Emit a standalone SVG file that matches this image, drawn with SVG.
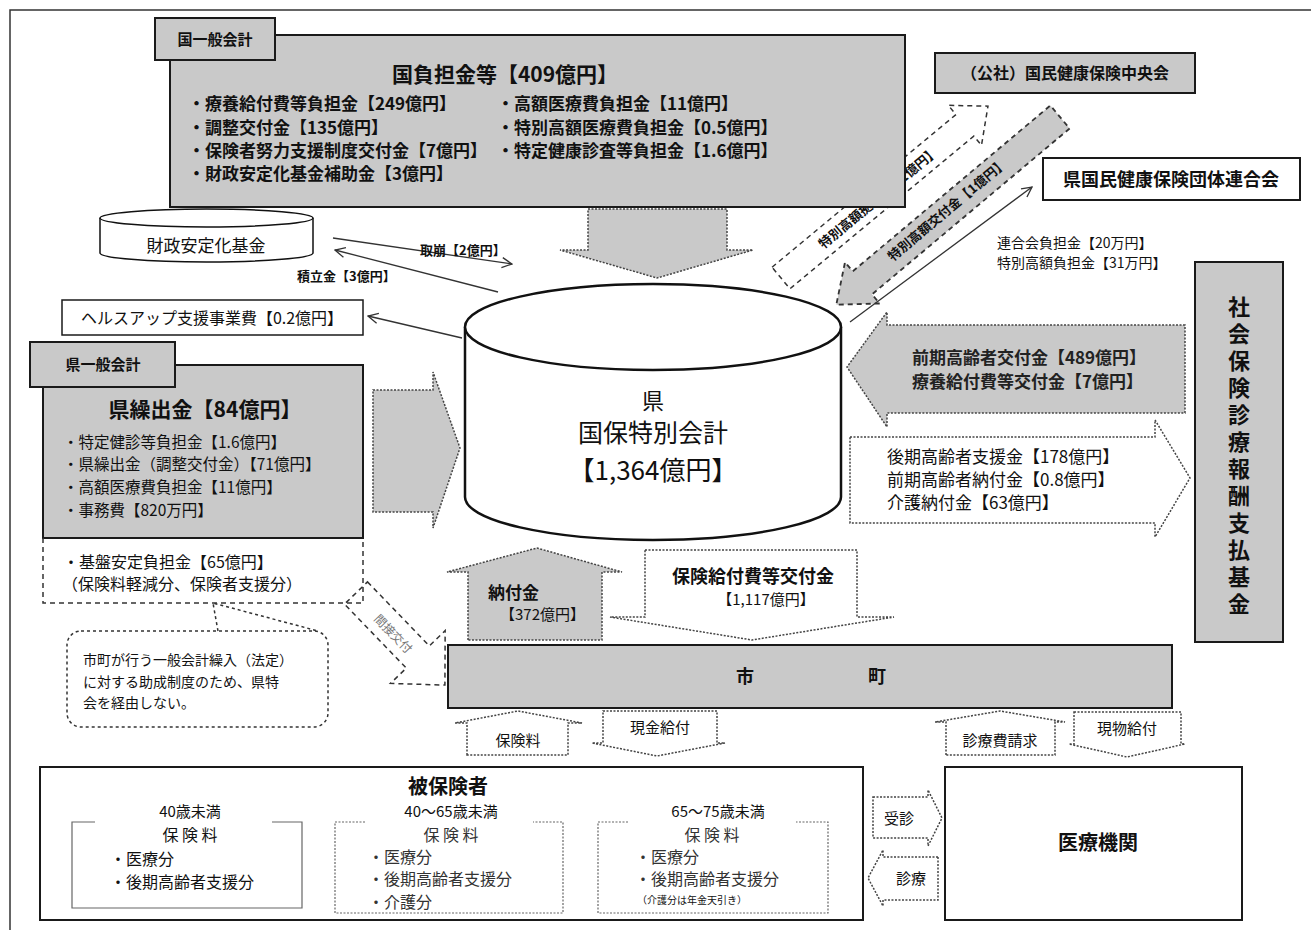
<svg xmlns="http://www.w3.org/2000/svg" width="1311" height="930" viewBox="0 0 1311 930">
<defs>
<style>
text{font-family:"Noto Sans CJK JP","Noto Sans CJK SC",sans-serif;fill:#111}
.b{font-weight:bold}
.c{text-anchor:middle}
.gbox{fill:#c9c9c9;stroke:#1a1a1a;stroke-width:2}
.wbox{fill:#fff;stroke:#1a1a1a;stroke-width:2}
.ga{fill:#c9c9c9;stroke:#444;stroke-width:1.5;stroke-dasharray:2 1.5}
.wa{fill:#fff;stroke:#444;stroke-width:1.5;stroke-dasharray:2 1.5}
.da{fill:#fff;stroke:#333;stroke-width:1.5;stroke-dasharray:5 4}
.dg{fill:#c9c9c9;stroke:#333;stroke-width:1.8;stroke-dasharray:5 4}
.ln{fill:none;stroke:#333;stroke-width:1.3}
.cyl{fill:#fff;stroke:#111;stroke-width:2.5}
.brk{fill:none;stroke:#666;stroke-width:1.2}
.dot{fill:none;stroke:#666;stroke-width:1.2;stroke-dasharray:2 1.5}
</style>
<marker id="oa" viewBox="0 0 12 12" markerWidth="12" markerHeight="12" refX="11" refY="6" orient="auto" markerUnits="userSpaceOnUse">
<path d="M1,1 L11,6 L1,11" fill="none" stroke="#333" stroke-width="1.3"/>
</marker>
</defs>
<rect x="0" y="0" width="1311" height="930" fill="#fff"/>
<path d="M10,930 L10,10 L1311,10" fill="none" stroke="#333" stroke-width="1.5"/>

<!-- connectors -->
<g id="connectors">
<path class="ga" d="M588,209 L727,209 L727,250 L753,250 L657,278 L560,250 L588,250 Z"/>
<g transform="translate(781,278) rotate(-39.7)"><path class="da" d="M0,-14 L239,-14 L239,-26 L269,0 L239,26 L239,14 L0,14 Z"/></g>
<g transform="translate(1060,117) rotate(140)"><path class="dg" d="M0,-15 L258,-15 L258,-27 L292,0 L258,27 L258,15 L0,15 Z"/></g>
<text class="b c" font-size="13" transform="translate(878,197) rotate(-39.7)" dominant-baseline="central">特別高額拠出金【1億円】</text>
<text class="b c" font-size="13" transform="translate(947,209) rotate(-40)" dominant-baseline="central">特別高額交付金【1億円】</text>
<path class="ln" d="M850,322 L1032,187" marker-end="url(#oa)"/>
<path class="ln" d="M333,238 L512,264" marker-end="url(#oa)"/>
<path class="ln" d="M498,292 L335,250" marker-end="url(#oa)"/>
<path class="ln" d="M462,338 L368,316" marker-end="url(#oa)"/>
<text class="b" x="420" y="255" font-size="13">取崩【2億円】</text>
<text class="b" x="297" y="281" font-size="13">積立金【3億円】</text>
<text x="997" y="248" font-size="14">連合会負担金【20万円】</text>
<text x="997" y="268" font-size="14">特別高額負担金【31万円】</text>
<path class="ga" d="M373,390 L433,390 L433,372 L460,448 L433,528 L433,512 L373,512 Z"/>
<path class="ga" d="M1185,325 L887,325 L887,312 L847,367 L887,427 L887,413 L1185,413 Z"/>
<text class="b" x="912" y="364" font-size="17" style="fill:#222">前期高齢者交付金【489億円】</text>
<text class="b" x="912" y="388" font-size="17" style="fill:#222">療養給付費等交付金【7億円】</text>
<path class="wa" d="M850,437 L1155,437 L1155,420 L1190,478 L1155,537 L1155,523 L850,523 Z"/>
<text x="887" y="463" font-size="17">後期高齢者支援金【178億円】</text>
<text x="887" y="486" font-size="17">前期高齢者納付金【0.8億円】</text>
<text x="887" y="509" font-size="17">介護納付金【63億円】</text>
<path class="ga" d="M468,640 L468,572 L447,572 L537,548 L622,572 L602,572 L602,640 Z"/>
<text class="b" x="488" y="599" font-size="17">納付金</text>
<text x="500" y="620" font-size="15">【372億円】</text>
<path class="wa" d="M645,550 L857,550 L857,617 L894,617 L752,640 L610,617 L645,617 Z"/>
<text class="b c" x="753" y="583" font-size="18">保険給付費等交付金</text>
<text class="c" x="766" y="605" font-size="15">【1,117億円】</text>
<g transform="translate(356,593) rotate(46)"><path class="da" d="M0,-16 L89,-16 L89,-38 L128,0 L89,38 L89,16 L0,16 Z"/></g>
<text class="c" font-size="12" style="fill:#777" transform="translate(394,633) rotate(46)" dominant-baseline="central">間接交付</text>
<path class="wa" d="M467,755 L467,723 L455,723 L518,711 L582,723 L568,723 L568,755 Z"/>
<text class="c" x="518" y="746" font-size="15">保険料</text>
<path class="wa" d="M603,711 L717,711 L717,743 L725,743 L657,756 L592,743 L603,743 Z"/>
<text class="c" x="660" y="733" font-size="15">現金給付</text>
<path class="wa" d="M946,755 L946,722 L935,722 L1000,711 L1065,722 L1055,722 L1055,755 Z"/>
<text class="c" x="1000" y="746" font-size="15">診療費請求</text>
<path class="wa" d="M1074,712 L1181,712 L1181,744 L1185,744 L1127,757 L1069,744 L1074,744 Z"/>
<text class="c" x="1127" y="734" font-size="15">現物給付</text>
<path class="wa" d="M873,797 L928,797 L928,790 L942,818 L928,846 L928,838 L873,838 Z"/>
<text class="c" x="899" y="824" font-size="15">受診</text>
<path class="wa" d="M938,857 L883,857 L883,850 L868,878 L883,906 L883,900 L938,900 Z"/>
<text class="c" x="911" y="884" font-size="15">診療</text>
</g>

<!-- national general account -->
<g id="kuni">
<rect class="gbox" x="170" y="35" width="735" height="172"/>
<rect class="gbox" x="155" y="18" width="120" height="42"/>
<text class="b c" x="215" y="45" font-size="15">国一般会計</text>
<text class="b c" x="505" y="82" font-size="21">国負担金等【409億円】</text>
<text class="b" x="188" y="110" font-size="17">・療養給付費等負担金【249億円】</text>
<text class="b" x="188" y="134" font-size="17">・調整交付金【135億円】</text>
<text class="b" x="188" y="157" font-size="17">・保険者努力支援制度交付金【7億円】</text>
<text class="b" x="188" y="180" font-size="17">・財政安定化基金補助金【3億円】</text>
<text class="b" x="497" y="110" font-size="17">・高額医療費負担金【11億円】</text>
<text class="b" x="497" y="134" font-size="17">・特別高額医療費負担金【0.5億円】</text>
<text class="b" x="497" y="157" font-size="17">・特定健康診査等負担金【1.6億円】</text>
</g>

<g id="chuokai">
<rect class="gbox" x="935" y="53" width="260" height="40"/>
<text class="b c" x="1065" y="79" font-size="16">（公社）国民健康保険中央会</text>
</g>

<g id="rengokai">
<rect class="wbox" x="1043" y="158" width="257" height="42"/>
<text class="b c" x="1171" y="186" font-size="18">県国民健康保険団体連合会</text>
</g>

<g id="kikin">
<path class="cyl" style="stroke-width:1.5" d="M100,218 L100,253 A106.5,9 0 0 0 313,253 L313,218"/>
<ellipse class="cyl" style="stroke-width:1.5" cx="206.5" cy="218" rx="106.5" ry="9"/>
<text class="c" x="206" y="252" font-size="17">財政安定化基金</text>
</g>

<g id="healthup">
<rect class="wbox" style="stroke-width:1.5" x="62" y="300" width="301" height="35"/>
<text class="c" x="212" y="324" font-size="16">ヘルスアップ支援事業費【0.2億円】</text>
</g>

<g id="tokubetsu">
<path class="cyl" d="M465,327 L465,497 A188,43 0 0 0 841,497 L841,327"/>
<ellipse class="cyl" cx="653" cy="327" rx="188" ry="43"/>
<text class="c" x="653" y="409" font-size="22">県</text>
<text class="c" x="653" y="442" font-size="25">国保特別会計</text>
<text class="c" x="653" y="480" font-size="26">【1,364億円】</text>
</g>

<g id="ken">
<rect class="gbox" x="43" y="365" width="320" height="173"/>
<rect class="gbox" x="30" y="342" width="145" height="45"/>
<text class="b c" x="103" y="370" font-size="15">県一般会計</text>
<text class="b c" x="205" y="417" font-size="21">県繰出金【84億円】</text>
<text x="63" y="448" font-size="15.5">・特定健診等負担金【1.6億円】</text>
<text x="63" y="470" font-size="15.5">・県繰出金（調整交付金）【71億円】</text>
<text x="63" y="493" font-size="15.5">・高額医療費負担金【11億円】</text>
<text x="63" y="516" font-size="15.5">・事務費【820万円】</text>
</g>

<g id="kiban">
<path class="da" style="fill:none" d="M43,538 L43,603 L363,603 L363,538"/>
<text x="63" y="568" font-size="16">・基盤安定負担金【65億円】</text>
<text x="62" y="590" font-size="16">（保険料軽減分、保険者支援分）</text>
</g>

<g id="callout">
<rect class="da" style="stroke-dasharray:3 3" x="67" y="631" width="261" height="96" rx="14"/>
<path class="da" style="fill:none;stroke-dasharray:3 3" d="M218,631 L213,603 L318,631"/>
<text x="83" y="665" font-size="14">市町が行う一般会計繰入（法定）</text>
<text x="83" y="687" font-size="14">に対する助成制度のため、県特</text>
<text x="83" y="708" font-size="14">会を経由しない。</text>
</g>

<g id="shiharai">
<rect class="gbox" x="1195" y="262" width="88" height="380"/>
<text class="b" x="1239" y="296" font-size="22" style="writing-mode:vertical-rl;letter-spacing:5px">社会保険診療報酬支払基金</text>
</g>

<g id="shicho">
<rect class="gbox" x="448" y="645" width="724" height="63"/>
<text class="b c" x="745" y="683" font-size="18">市</text>
<text class="b c" x="877" y="683" font-size="18">町</text>
</g>

<g id="hihokensha">
<rect class="wbox" x="40" y="767" width="823" height="153"/>
<text class="b c" x="448" y="794" font-size="20">被保険者</text>
<path class="brk" d="M95,822 L72,822 L72,908 L302,908 L302,822 L272,822"/>
<text class="c" x="190" y="817" font-size="15">40歳未満</text>
<text class="c" x="190" y="841" font-size="16">保 険 料</text>
<text x="110" y="865" font-size="16">・医療分</text>
<text x="110" y="888" font-size="16">・後期高齢者支援分</text>
<path class="dot" d="M365,822 L335,822 L335,913 L563,913 L563,822 L533,822"/>
<text class="c" x="451" y="817" font-size="15">40～65歳未満</text>
<text class="c" x="451" y="841" font-size="16" style="fill:#333">保 険 料</text>
<text x="368" y="863" font-size="16" style="fill:#333">・医療分</text>
<text x="368" y="885" font-size="16" style="fill:#333">・後期高齢者支援分</text>
<text x="368" y="908" font-size="16" style="fill:#333">・介護分</text>
<path class="dot" d="M628,822 L598,822 L598,913 L828,913 L828,822 L796,822"/>
<text class="c" x="718" y="817" font-size="15">65～75歳未満</text>
<text class="c" x="712" y="841" font-size="16" style="fill:#333">保 険 料</text>
<text x="635" y="863" font-size="16" style="fill:#333">・医療分</text>
<text x="635" y="885" font-size="16" style="fill:#333">・後期高齢者支援分</text>
<text x="637" y="904" font-size="10">（介護分は年金天引き）</text>
</g>

<g id="iryokikan">
<rect class="wbox" x="945" y="767" width="297" height="153"/>
<text class="b c" x="1098" y="850" font-size="20">医療機関</text>
</g>
</svg>
